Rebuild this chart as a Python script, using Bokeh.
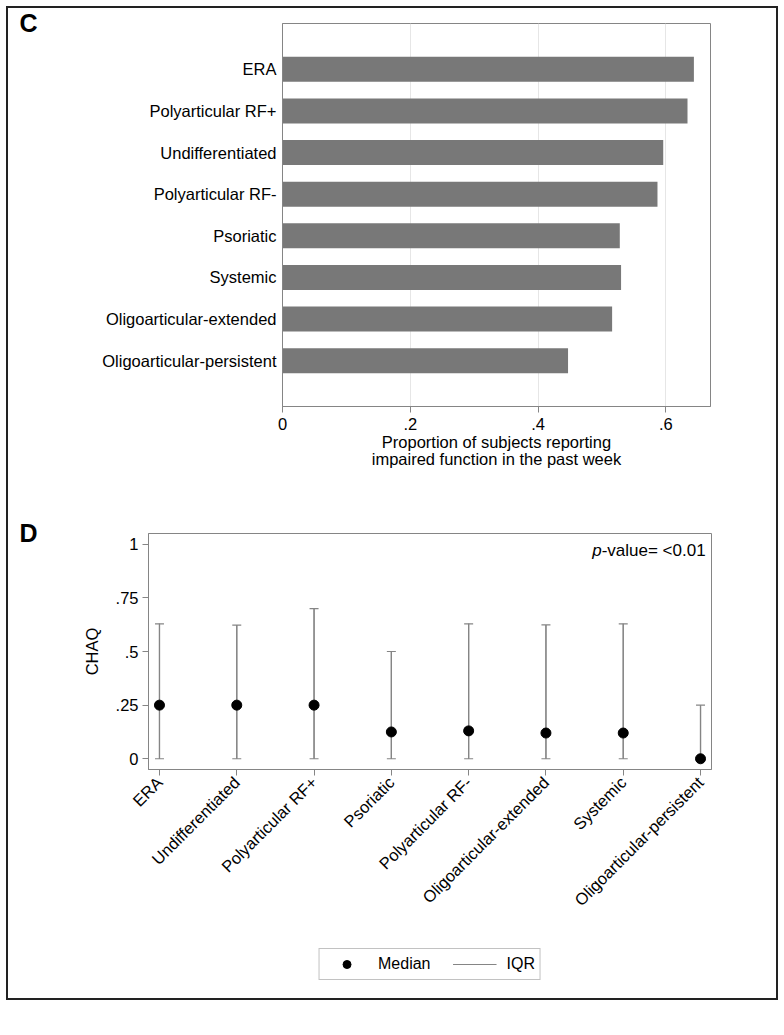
from bokeh.plotting import figure
from bokeh.models import (ColumnDataSource, FactorRange, Range1d, FixedTicker,
                          Whisker, TeeHead, Label, Legend, LegendItem, Title)
from bokeh.layouts import column
from bokeh.embed import file_html
from bokeh.resources import INLINE

# ---------------- data ----------------
top_categories = ["ERA", "Polyarticular RF+", "Undifferentiated", "Polyarticular RF-",
                  "Psoriatic", "Systemic", "Oligoarticular-extended", "Oligoarticular-persistent"]
top_values = [0.644, 0.634, 0.596, 0.587, 0.528, 0.530, 0.516, 0.447]
top_ticks = [0, 0.2, 0.4, 0.6]
top_tick_labels = ["0", ".2", ".4", ".6"]

bot_categories = ["ERA", "Undifferentiated", "Polyarticular RF+", "Psoriatic",
                  "Polyarticular RF-", "Oligoarticular-extended", "Systemic",
                  "Oligoarticular-persistent"]
bot_median = [0.25, 0.25, 0.25, 0.125, 0.13, 0.12, 0.12, 0.0]
bot_iqr_low = [0.0, 0.0, 0.0, 0.0, 0.0, 0.0, 0.0, 0.0]
bot_iqr_high = [0.629, 0.623, 0.70, 0.50, 0.629, 0.624, 0.629, 0.25]
bot_ticks = [0, 0.25, 0.5, 0.75, 1]
bot_tick_labels = ["0", ".25", ".5", ".75", "1"]

FONT = "Liberation Sans"
FS = "16.5px"
GRAY = "#858585"

# ---------------- panel C ----------------
p1 = figure(width=768, height=470, output_backend="svg", toolbar_location=None,
            y_range=FactorRange(factors=top_categories[::-1], range_padding=0.6,
                                range_padding_units="absolute"),
            x_range=Range1d(0, 0.67), frame_align=False,
            min_border_left=274, min_border_right=66, min_border_top=15,
            min_border_bottom=72)
src1 = ColumnDataSource(dict(cat=top_categories, val=top_values))
p1.hbar(y="cat", right="val", left=0, height=0.6, source=src1,
        fill_color="#787878", line_color=None)
p1.outline_line_color = GRAY
p1.ygrid.grid_line_color = None
p1.xgrid.grid_line_color = "#e6e6e6"
p1.xgrid.ticker = FixedTicker(ticks=top_ticks)
p1.xaxis.ticker = FixedTicker(ticks=top_ticks)
p1.xaxis.major_label_overrides = {t: l for t, l in zip(top_ticks, top_tick_labels)}
p1.xaxis.axis_label = "Proportion of subjects reporting\nimpaired function in the past week"
p1.xaxis.axis_label_text_font_style = "normal"
p1.xaxis.axis_label_text_font = FONT
p1.xaxis.axis_label_text_font_size = FS
p1.xaxis.axis_label_text_color = "black"
p1.xaxis.axis_label_text_line_height = 0.95
p1.xaxis.axis_label_standoff = 0
p1.xaxis.major_label_standoff = 5
p1.xaxis.major_tick_out = 6
p1.xaxis.major_tick_in = 0
p1.xaxis.minor_tick_line_color = None
for ax in (p1.xaxis, p1.yaxis):
    ax.axis_line_color = GRAY
    ax.major_tick_line_color = GRAY
    ax.major_label_text_font = FONT
    ax.major_label_text_font_size = FS
    ax.major_label_text_color = "black"
p1.yaxis.major_tick_out = 0
p1.yaxis.major_tick_in = 0
p1.yaxis.major_label_standoff = 6
p1.add_layout(Title(text="C", align="left", offset=-263, standoff=-26,
                    text_font=FONT, text_font_size="25px", text_font_style="bold",
                    text_color="black"), "above")

# ---------------- panel D ----------------
n = len(bot_categories)
xs = list(range(1, n + 1))
p2 = figure(frame_width=563, frame_height=236, output_backend="svg",
            toolbar_location=None,
            x_range=Range1d(0.858, n + 0.142), y_range=Range1d(-0.05, 1.05),
            frame_align=False,
            min_border_left=140, min_border_right=65, min_border_top=55,
            min_border_bottom=160)
src2 = ColumnDataSource(dict(x=xs, med=bot_median, lo=bot_iqr_low, hi=bot_iqr_high))
seg = p2.segment(x0="x", y0="lo", x1="x", y1="hi", source=src2, line_color=GRAY,
                 line_width=1.2)
wh = Whisker(base="x", lower="lo", upper="hi", source=src2, dimension="height",
             line_color=GRAY, line_width=1.2,
             upper_head=TeeHead(size=9, line_color=GRAY, line_width=1.2),
             lower_head=TeeHead(size=9, line_color=GRAY, line_width=1.2))
wh.level = "underlay"
p2.add_layout(wh)
dots = p2.scatter(x="x", y="med", source=src2, size=10, fill_color="black",
                  line_color="black")
p2.grid.grid_line_color = None
p2.outline_line_color = GRAY
p2.xaxis.ticker = FixedTicker(ticks=xs)
p2.xaxis.major_label_overrides = {x: c for x, c in zip(xs, bot_categories)}
p2.xaxis.major_label_orientation = 0.785398
p2.yaxis.ticker = FixedTicker(ticks=bot_ticks)
p2.yaxis.major_label_overrides = {t: l for t, l in zip(bot_ticks, bot_tick_labels)}
p2.yaxis.axis_label = "CHAQ"
p2.yaxis.axis_label_text_font_style = "normal"
p2.yaxis.axis_label_text_font = FONT
p2.yaxis.axis_label_text_font_size = FS
p2.yaxis.axis_label_text_color = "black"
p2.yaxis.axis_label_standoff = 12
for ax in (p2.xaxis, p2.yaxis):
    ax.axis_line_color = GRAY
    ax.major_tick_line_color = GRAY
    ax.minor_tick_line_color = None
    ax.major_tick_out = 6
    ax.major_tick_in = 0
    ax.major_label_standoff = 4
    ax.major_label_text_font = FONT
    ax.major_label_text_font_size = FS
    ax.major_label_text_color = "black"

p2.add_layout(Title(text="D", align="left", offset=-129, standoff=-26,
                    text_font=FONT, text_font_size="25px", text_font_style="bold",
                    text_color="black"), "above")
p2.add_layout(Label(x=8.066, y=1.016, text="-value= <0.01", text_font=FONT,
                    text_font_size="17px", text_color="black",
                    text_baseline="top", text_align="right"))
p2.add_layout(Label(x=6.72, y=1.016, text="p", text_font=FONT,
                    text_font_size="17px", text_font_style="italic",
                    text_color="black",
                    text_baseline="top", text_align="right"))

# ---------------- legend strip (same data, outside this strip's ranges) ----------------
p3 = figure(width=768, height=69, output_backend="svg", toolbar_location=None,
            x_range=Range1d(-2, -1), y_range=Range1d(-2, -1), frame_align=False,
            min_border_left=140, min_border_right=65, min_border_top=0,
            min_border_bottom=0)
p3.axis.visible = False
p3.grid.visible = False
p3.outline_line_color = None
leg_dot = p3.scatter(x="x", y="med", source=src2, size=10, fill_color="black",
                     line_color="black")
leg_line = p3.segment(x0="x", y0="lo", x1="x", y1="hi", source=src2,
                      line_color=GRAY, line_width=1.2)
legend = Legend(items=[LegendItem(label="Median", renderers=[leg_dot]),
                       LegendItem(label="IQR", renderers=[leg_line])],
                orientation="horizontal", location="top_center",
                label_text_font=FONT, label_text_font_size="16px",
                label_text_color="black",
                border_line_color=GRAY, border_line_width=1,
                glyph_width=44, glyph_height=20, label_height=20,
                label_standoff=10, spacing=22, padding=5, margin=19,
                background_fill_alpha=0)
p3.add_layout(legend)

layout = column(p1, p2, p3, margin=(8, 0, 0, 8), styles={"outline": "2px solid #222222"})

open("out.html", "w").write(file_html(layout, INLINE))
